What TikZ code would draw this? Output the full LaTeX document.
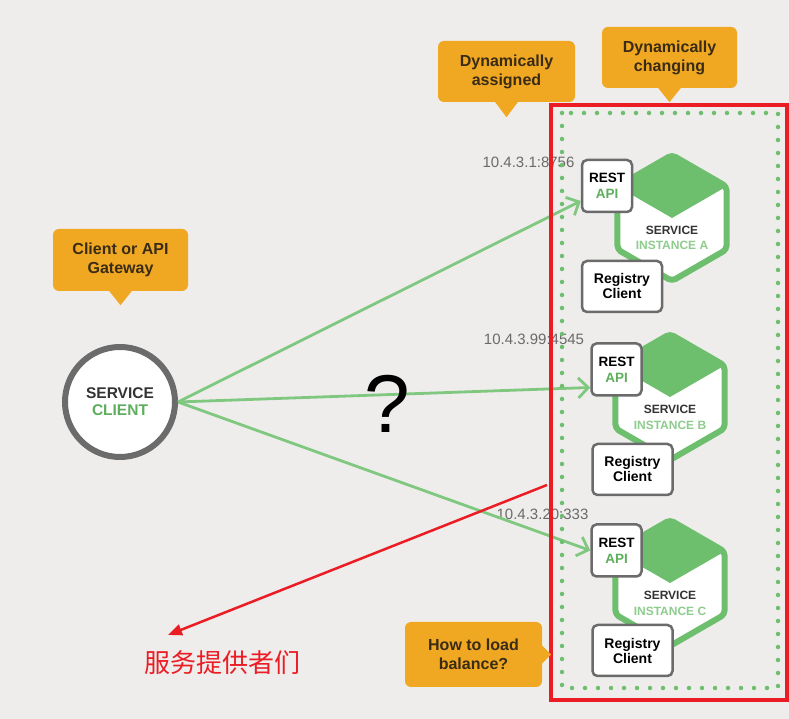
\documentclass[tikz,border=0pt]{standalone}
\usepackage{fontspec}
\setmainfont{Liberation Sans}
\newfontfamily\cjk{Noto Sans CJK SC}
\usetikzlibrary{arrows.meta, positioning, calc}
\definecolor{bggray}{HTML}{EEEDEB}
\definecolor{callorange}{HTML}{F0A823}
\definecolor{calltext}{HTML}{3A2C14}
\definecolor{svcgreen}{HTML}{6DBF6D}
\definecolor{linegreen}{HTML}{80C880}
\definecolor{textgreen}{HTML}{5DAE5D}
\definecolor{lightgreen}{HTML}{8ECC8E}
\definecolor{boxgray}{HTML}{6B6B6B}
\definecolor{ipgray}{HTML}{6A6A6A}
\definecolor{markred}{HTML}{EC1C24}

\begin{document}
\begin{tikzpicture}[
        x=1pt, y=1pt,
        callout/.style={rectangle, fill=callorange, rounded corners=6pt, minimum width=135pt, minimum height=62pt, align=center, text=calltext, font=\fontsize{16}{19}\selectfont\bfseries},
        restbox/.style={rectangle, draw=boxgray, line width=2.5pt, fill=white, rounded corners=5pt, minimum width=50pt, minimum height=52pt, align=center, font=\fontsize{13.5}{16}\selectfont\bfseries},
        regbox/.style={restbox, minimum width=80pt, minimum height=51pt, font=\fontsize{14}{15}\selectfont\bfseries},
        svclabel/.style={align=center, font=\fontsize{12}{15.5}\selectfont\bfseries, text=black!80},
        iplabel/.style={text=ipgray, font=\fontsize{15}{17}\selectfont},
        hexline/.style={draw=svcgreen, line width=6pt, rounded corners=4pt, line join=round},
        dotframe/.style={draw=svcgreen, line width=4.5pt, line cap=round, dash pattern=on 0pt off 13pt},
        reqarrow/.style={-{Straight Barb[length=10pt, width=20pt]}, draw=linegreen, line width=2.8pt},
        redarrow/.style={-{Triangle[length=14pt, width=11pt]}, draw=markred, line width=2.5pt}
    ]

    % Canvas
    \useasboundingbox (0,0) rectangle (789,719);
    \fill[bggray] (0,0) rectangle (789,719);

    % Client side
    \node[circle, draw=boxgray, line width=6pt, fill=white, minimum size=110pt, align=center, font=\fontsize{15.5}{17}\selectfont\bfseries, text=black!80] (client) at (120,317) {SERVICE\\\textcolor{textgreen}{CLIENT}};
    \node[callout] (gateway) at (120.5,459) {Client or API\\Gateway};
    \fill[callorange] ($(gateway.south)+(-12,1)$) -- ($(gateway.south)+(0,-14)$) -- ($(gateway.south)+(12,1)$) -- cycle;

    % Service instances
    \coordinate (hexA) at (672,501);
    \coordinate (hexB) at (670,322);
    \coordinate (hexC) at (670,136);
    \foreach \h in {hexA, hexB, hexC} {
        \begin{scope}[shift={(\h)}]
            \fill[white] (90:63) -- (150:63) -- (210:63) -- (270:63) -- (330:63) -- (30:63) -- cycle;
            \fill[svcgreen] (90:63) -- (150:63) -- (0,0) -- (30:63) -- cycle;
            \draw[hexline] (90:63) -- (150:63) -- (210:63) -- (270:63) -- (330:63) -- (30:63) -- cycle;
        \end{scope}
    }
    \node[svclabel] (svcA) at (672,481) {SERVICE\\\textcolor{lightgreen}{INSTANCE A}};
    \node[svclabel] (svcB) at (670,301.5) {SERVICE\\\textcolor{lightgreen}{INSTANCE B}};
    \node[svclabel] (svcC) at (670,115.5) {SERVICE\\\textcolor{lightgreen}{INSTANCE C}};

    \node[restbox] (restA) at (607,533) {REST\\\textcolor{textgreen}{API}};
    \node[restbox] (restB) at (616.5,349.5) {REST\\\textcolor{textgreen}{API}};
    \node[restbox] (restC) at (616.5,168.5) {REST\\\textcolor{textgreen}{API}};

    \node[regbox] (regA) at (622,432.5) {Registry\\Client};
    \node[regbox] (regB) at (632.5,249.5) {Registry\\Client};
    \node[regbox] (regC) at (632.5,68.5) {Registry\\Client};

    % Addresses
    \node[iplabel] (ipA) at (528.5,557) {10.4.3.1:8756};
    \node[iplabel] (ipB) at (534,380) {10.4.3.99:4545};
    \node[iplabel] (ipC) at (542.5,205) {10.4.3.20:333};

    % Requests
    \draw[reqarrow] (client.east) -- ($(restA.west)+(0,-15)$);
    \draw[reqarrow] (client.east) -- ($(restB.west)+(0,-18)$);
    \draw[reqarrow] (client.east) -- (restC.west);
    \node[font=\fontsize{82}{82}\selectfont] (question) at (387,315.5) {?};

    % Frames
    \draw[dotframe] (562,606) rectangle (778,31);
    \draw[markred, line width=3.5pt] (551,614) rectangle (787,19);

    % Callouts
    \node[callout, minimum width=137pt, minimum height=61pt] (assigned) at (506.5,647.5) {Dynamically\\assigned};
    \fill[callorange] ($(assigned.south)+(-12,1)$) -- ($(assigned.south)+(0,-15)$) -- ($(assigned.south)+(12,1)$) -- cycle;
    \node[callout, minimum height=61pt] (changing) at (669.5,661.5) {Dynamically\\changing};
    \fill[callorange] ($(changing.south)+(-12,1)$) -- ($(changing.south)+(0,-14)$) -- ($(changing.south)+(12,1)$) -- cycle;
    \node[callout, minimum width=137pt, minimum height=65pt] (balance) at (473.5,64.5) {How to load\\balance?};
    \fill[callorange] ($(balance.east)+(-1,10)$) -- ($(balance.east)+(9,0)$) -- ($(balance.east)+(-1,-10)$) -- cycle;

    % Annotation
    \node[text=markred, font=\cjk\fontsize{26}{26}\selectfont] (providers) at (222,56) {服务提供者们};
    \coordinate (redstart) at (547,234);
    \coordinate (redend) at (168,84);
    \draw[redarrow] (redstart) -- (redend);

\end{tikzpicture}
\end{document}
